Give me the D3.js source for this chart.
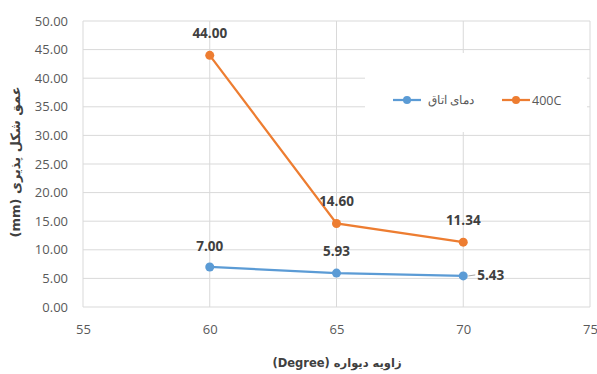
<!DOCTYPE html>
<html><head><meta charset="utf-8">
<script src="https://cdn.jsdelivr.net/npm/d3@7"></script>
<style>body{margin:0;background:#fff}svg{display:block}</style>
</head><body>
<svg id="c" width="597" height="374"></svg>
<script>
const degrees = [60, 65, 70];
const roomTemp = [7.00, 5.93, 5.43];
const temp400 = [44.00, 14.60, 11.34];
const seriesNames = ["دمای اتاق", "400C"];
const xTicks = [55, 60, 65, 70, 75];
const yTicks = [0, 5, 10, 15, 20, 25, 30, 35, 40, 45, 50];
const xTitle = "زاویه دیواره (Degree)";
const yTitle = "عمق شکل پذیری (mm)";

const svg = d3.select("#c");
const x = d3.scaleLinear().domain([55, 75]).range([83, 590]);
const y = d3.scaleLinear().domain([0, 50]).range([307, 21]);
const grid = "#d9d9d9", tc = "#595959", lc = "#404040";
const blue = "#5B9BD5", orange = "#ED7D31";
const font = "'Open Sans', sans-serif";

// grid
svg.append("g").selectAll("line").data(yTicks).join("line")
  .attr("x1", x(55)).attr("x2", x(75)).attr("y1", d => y(d)).attr("y2", d => y(d))
  .attr("stroke", grid).attr("stroke-width", 1);
svg.append("g").selectAll("line").data(xTicks).join("line")
  .attr("x1", d => x(d)).attr("x2", d => x(d)).attr("y1", y(0)).attr("y2", y(50))
  .attr("stroke", grid).attr("stroke-width", 1);

// axes
const yAxis = d3.axisLeft(y).tickValues(yTicks).tickFormat(d3.format(".2f")).tickSize(0).tickPadding(15);
const ga = svg.append("g").attr("transform", `translate(${x(55)},0)`).call(yAxis);
ga.select(".domain").remove();
ga.selectAll("text").attr("fill", tc).style("font-family", font).style("font-size", "13px");
const xAxis = d3.axisBottom(x).tickValues(xTicks).tickSize(0).tickPadding(18);
const gx = svg.append("g").attr("transform", `translate(0,${y(0)})`).call(xAxis);
gx.select(".domain").remove();
gx.selectAll("text").attr("fill", tc).style("font-family", font).style("font-size", "13px");

// legend box
svg.append("rect").attr("x", 365).attr("y", 53).attr("width", 222).attr("height", 79).attr("fill", "#fff");

const line = d3.line().x((d, i) => x(degrees[i])).y(d => y(d));
function drawSeries(vals, color) {
  svg.append("path").datum(vals).attr("d", line).attr("fill", "none")
    .attr("stroke", color).attr("stroke-width", 2.25);
  svg.append("g").selectAll("circle").data(vals).join("circle")
    .attr("cx", (d, i) => x(degrees[i])).attr("cy", d => y(d)).attr("r", 4.5).attr("fill", color);
}
drawSeries(temp400, orange);
drawSeries(roomTemp, blue);

const fmt = d3.format(".2f");
const lab = svg.append("g").style("font-family", font).style("font-size", "13.5px")
  .style("font-weight", "bold").attr("fill", lc).attr("text-anchor", "middle");
temp400.forEach((v, i) => {
  lab.append("text").attr("x", x(degrees[i])).attr("y", y(v) - 17).text(fmt(v));
});
roomTemp.forEach((v, i) => {
  if (i < 2) {
    lab.append("text").attr("x", x(degrees[i])).attr("y", y(v) - (i === 0 ? 16 : 17)).text(fmt(v));
  } else {
    svg.append("line").attr("x1", x(degrees[i]) + 5).attr("x2", x(degrees[i]) + 12)
      .attr("y1", y(v)).attr("y2", y(v) - 1).attr("stroke", "#a6a6a6");
    lab.append("text").attr("x", x(degrees[i]) + 14).attr("y", y(v) + 4).attr("text-anchor", "start").text(fmt(v));
  }
});

// legend
const leg = [{name: seriesNames[0], color: blue, x: 393}, {name: seriesNames[1], color: orange, x: 502}];
leg.forEach(l => {
  svg.append("line").attr("x1", l.x).attr("x2", l.x + 28).attr("y1", 100).attr("y2", 100)
    .attr("stroke", l.color).attr("stroke-width", 2.25);
  svg.append("circle").attr("cx", l.x + 14).attr("cy", 100).attr("r", 4).attr("fill", l.color);
});
svg.append("text").attr("x", 474).attr("y", 104).attr("text-anchor", "end").attr("fill", tc)
  .style("font-family", "'Noto Sans', sans-serif").style("font-size", "12px").text(seriesNames[0]);
svg.append("text").attr("x", 532).attr("y", 104.5).attr("text-anchor", "start").attr("fill", tc)
  .style("font-family", font).style("font-size", "12.5px").text(seriesNames[1]);

// titles
svg.append("text").attr("x", 337).attr("y", 367).attr("text-anchor", "middle").attr("fill", lc)
  .style("font-family", "'DejaVu Sans', sans-serif").style("font-size", "11.5px").style("font-weight", "bold")
  .attr("direction", "rtl").text(xTitle);
svg.append("text").attr("transform", "translate(20,162) rotate(-90)").attr("text-anchor", "middle").attr("fill", lc)
  .style("font-family", "'DejaVu Sans', sans-serif").style("font-size", "13px").style("font-weight", "bold")
  .attr("direction", "rtl").text(yTitle);
</script>
</body></html>
